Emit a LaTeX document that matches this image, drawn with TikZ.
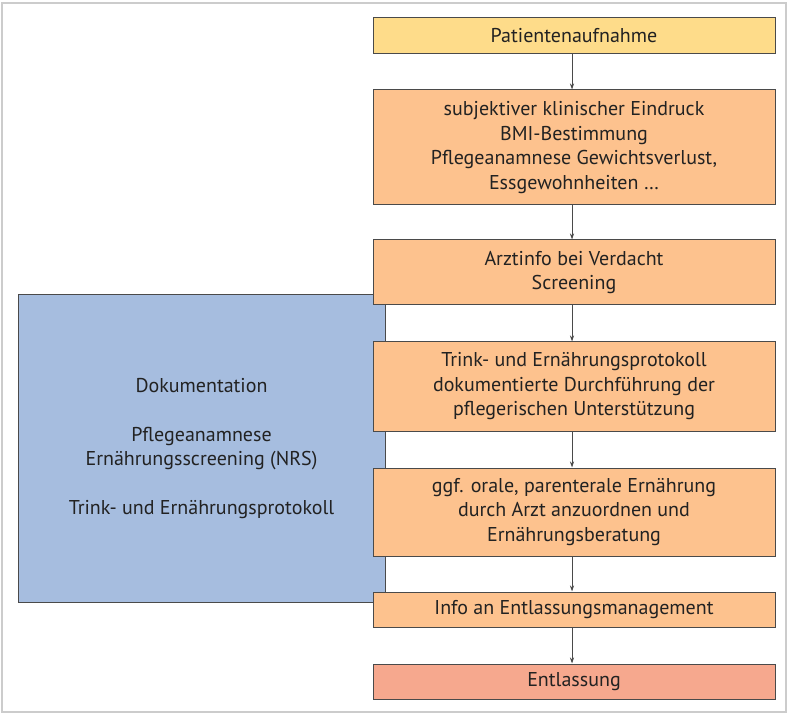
\documentclass[tikz,border=0pt]{standalone}
\usepackage{fontspec}
\setmainfont{PT Sans}
\usetikzlibrary{arrows.meta}
\definecolor{cyellow}{HTML}{FEDC8A}
\definecolor{corange}{HTML}{FDC28E}
\definecolor{csalmon}{HTML}{F6A88E}
\definecolor{cblue}{HTML}{A6BDDF}
\definecolor{cborder}{HTML}{4A4A4A}
\definecolor{ctext}{HTML}{222222}
\definecolor{cframe}{HTML}{CCCCCC}
\tikzset{
  x=1pt, y=-1pt,
  box/.style={draw=cborder, line width=1pt, minimum width=402pt, align=center, inner sep=0pt,
    text=ctext, font=\fontsize{20}{24.5}\selectfont},
  flow/.style={draw=cborder, line width=0.8pt, -{Stealth[length=6pt,width=4pt]}},
}
\begin{document}
\begin{tikzpicture}
\useasboundingbox (0,0) rectangle (788,714);
\draw[cframe, line width=1.5pt] (2,3) rectangle (786,712);
\node[box, fill=cblue, minimum width=367pt, minimum height=307pt] (doc) at (201.5,448.5)
  {Dokumentation\\[24.5pt]Pflegeanamnese\\Ernährungsscreening (NRS)\\[24.5pt]Trink- und Ernährungsprotokoll};
\node[box, fill=cyellow, minimum height=36pt] (a) at (574,36) {Patientenaufnahme};
\node[box, fill=corange, minimum height=115pt] (b) at (574,147.5) {subjektiver klinischer Eindruck\\BMI-Bestimmung\\Pflegeanamnese Gewichtsverlust,\\Essgewohnheiten \dots};
\node[box, fill=corange, minimum height=65pt] (c) at (574,272.5) {Arztinfo bei Verdacht\\Screening};
\node[box, fill=corange, minimum height=89pt] (d) at (574,386.5) {Trink- und Ernährungsprotokoll\\dokumentierte Durchführung der\\pflegerischen Unterstützung};
\node[box, fill=corange, minimum height=88pt] (e) at (574,512) {ggf. orale, parenterale Ernährung\\durch Arzt anzuordnen und\\Ernährungsberatung};
\node[box, fill=corange, minimum height=35pt] (f) at (574,609.5) {Info an Entlassungsmanagement};
\node[box, fill=csalmon, minimum height=35pt] (g) at (574,681.5) {Entlassung};
\foreach \p/\q in {a/b,b/c,c/d,d/e,e/f,f/g}
  \draw[flow] ([xshift=-2pt]\p.south) -- ([xshift=-2pt]\q.north);
\end{tikzpicture}
\end{document}
